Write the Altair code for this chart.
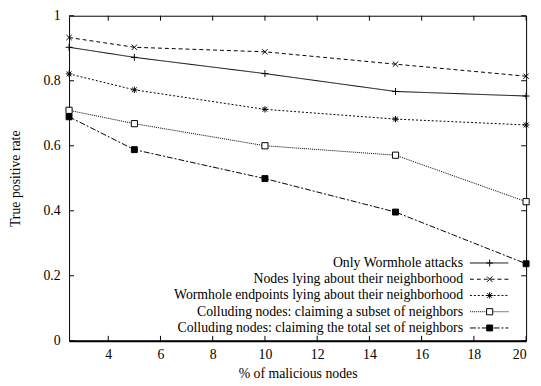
import altair as alt
import pandas as pd

series = [
    "Only Wormhole attacks",
    "Nodes lying about their neighborhood",
    "Wormhole endpoints lying about their neighborhood",
    "Colluding nodes: claiming a subset of neighbors",
    "Colluding nodes: claiming the total set of neighbors",
]
x_vals = [2.5, 5, 10, 15, 20]
only_wormhole = [0.903, 0.872, 0.822, 0.767, 0.753]
nodes_lying = [0.933, 0.903, 0.889, 0.851, 0.814]
endpoints_lying = [0.821, 0.772, 0.712, 0.682, 0.664]
colluding_subset = [0.709, 0.668, 0.600, 0.571, 0.428]
colluding_total = [0.689, 0.588, 0.499, 0.396, 0.237]
x_ticks = [4, 6, 8, 10, 12, 14, 16, 18, 20]
y_ticks = [0, 0.2, 0.4, 0.6, 0.8, 1]

values = [only_wormhole, nodes_lying, endpoints_lying, colluding_subset, colluding_total]
rows = []
for s, vals in zip(series, values):
    for x, v in zip(x_vals, vals):
        rows.append({"series": s, "x": x, "y": v})
df = pd.DataFrame(rows)
df_leg = pd.DataFrame({"series": series, "row": list(range(len(series)))})
df_xt = pd.DataFrame({"t": x_ticks})
df_yt = pd.DataFrame({"t": y_ticks})

W, H = 464, 330
FONT = "Times New Roman, Times, Liberation Serif, Nimbus Roman, DejaVu Serif"
FS = 14

dash_scale = alt.Scale(domain=series, range=[[1, 0], [4, 3], [2, 2], [1, 1], [6, 2, 2, 2]])
shape_scale = alt.Scale(
    domain=series,
    range=[
        "M-1,0L1,0M0,-1L0,1",
        "M-0.8,-0.8L0.8,0.8M-0.8,0.8L0.8,-0.8",
        "M-1,0L1,0M0,-1L0,1M-0.75,-0.75L0.75,0.75M-0.75,0.75L0.75,-0.75",
        "square",
        "square",
    ],
)
fill_scale = alt.Scale(domain=series, range=["white", "white", "white", "white", "black"])
size_scale = alt.Scale(domain=series, range=[49, 36, 36, 20, 22])

xs = alt.Scale(domain=[2.5, 20], nice=False, zero=False)
ys = alt.Scale(domain=[0, 1], nice=False)

base = alt.Chart(df)
lines = base.mark_line(color="black", strokeWidth=1).encode(
    x=alt.X("x:Q", scale=xs, axis=alt.Axis(values=x_ticks, title="% of malicious nodes", grid=False,
                                          ticks=False, domain=True, domainColor="black", domainWidth=2,
                                          labelPadding=7, titlePadding=5)),
    y=alt.Y("y:Q", scale=ys, axis=alt.Axis(values=y_ticks, title="True positive rate", grid=False,
                                          ticks=False, domain=False, labelPadding=9, titlePadding=21,
                                          format="~g")),
    strokeDash=alt.StrokeDash("series:N", scale=dash_scale, legend=None),
    detail="series:N",
)
points = base.mark_point(color="black", strokeWidth=1, opacity=1).encode(
    x=alt.X("x:Q", scale=xs),
    y=alt.Y("y:Q", scale=ys, axis=None),
    shape=alt.Shape("series:N", scale=shape_scale, legend=None),
    fill=alt.Fill("series:N", scale=fill_scale, legend=None),
    size=alt.Size("series:N", scale=size_scale, legend=None),
)

tick_b = alt.Chart(df_xt).mark_rule(color="black").encode(
    x=alt.X("t:Q", scale=xs), y=alt.value(H), y2=alt.value(H - 5))
tick_t = alt.Chart(df_xt).mark_rule(color="black").encode(
    x=alt.X("t:Q", scale=xs), y=alt.value(0), y2=alt.value(5))
tick_l = alt.Chart(df_yt).mark_rule(color="black").encode(
    y=alt.Y("t:Q", scale=ys, axis=None), x=alt.value(0), x2=alt.value(5))
tick_r = alt.Chart(df_yt).mark_rule(color="black").encode(
    y=alt.Y("t:Q", scale=ys, axis=None), x=alt.value(W), x2=alt.value(W - 5))

ly = alt.Y("row:Q", scale=alt.Scale(domain=[0, 4], range=[251, 317]), axis=None)
leg_text = alt.Chart(df_leg).mark_text(align="right", baseline="middle", fontSize=FS,
                                       color="black").encode(
    x=alt.value(400), y=ly, text="series:N")
leg_rule = alt.Chart(df_leg).mark_rule(color="black", strokeWidth=1).encode(
    x=alt.value(407), x2=alt.value(446), y=ly,
    strokeDash=alt.StrokeDash("series:N", scale=dash_scale, legend=None))
leg_pt = alt.Chart(df_leg).mark_point(color="black", strokeWidth=1, opacity=1).encode(
    x=alt.value(427), y=ly,
    shape=alt.Shape("series:N", scale=shape_scale, legend=None),
    fill=alt.Fill("series:N", scale=fill_scale, legend=None),
    size=alt.Size("series:N", scale=size_scale, legend=None))

chart = alt.layer(lines, points, tick_b, tick_t, tick_l, tick_r, leg_rule, leg_pt, leg_text).resolve_scale(
    y="independent"
).properties(
    width=W, height=H,
    autosize=alt.AutoSizeParams(type="none"),
    padding={"left": 62, "top": 5, "right": 7, "bottom": 40},
    background="white",
).configure(font=FONT).configure_view(stroke="black", strokeWidth=1).configure_axis(
    labelFont=FONT, titleFont=FONT, labelFontSize=FS, titleFontSize=FS,
    labelColor="black", titleColor="black", titleFontWeight="normal",
).configure_text(font=FONT)

chart.save("out.html", embed_options={"renderer": "svg", "actions": False})
